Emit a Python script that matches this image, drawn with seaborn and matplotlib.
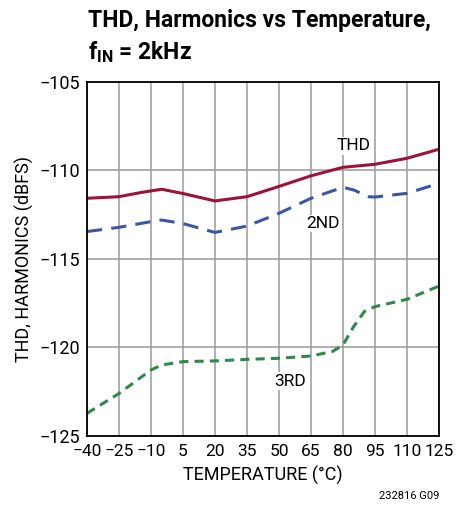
import matplotlib.pyplot as plt
import numpy as np
import pandas as pd
import seaborn as sb

# readings (temperature in degC, level in dBFS)
thd_temp = [-40, -25, -15, -5, 5, 20, 35, 50, 65, 75, 80, 95, 110, 125]
thd_val = [-111.57, -111.48, -111.25, -111.06, -111.3, -111.72, -111.48, -110.9, -110.3, -109.98, -109.82, -109.65, -109.31, -108.8]

nd2_temp = [-40, -25, -10, -5, 5, 20, 35, 50, 65, 80, 85, 92, 95, 110, 125]
nd2_val = [-113.45, -113.21, -112.89, -112.8, -113.0, -113.5, -113.14, -112.42, -111.57, -110.95, -111.1, -111.48, -111.5, -111.29, -110.73]

rd3_temp = [-40, -25, -10, -5, 5, 20, 35, 50, 65, 75, 80, 85, 90, 95, 110, 125]
rd3_val = [-123.72, -122.6, -121.27, -120.99, -120.8, -120.76, -120.67, -120.61, -120.48, -120.23, -119.86, -118.82, -117.97, -117.69, -117.28, -116.53]

x_ticks = [-40, -25, -10, 5, 20, 35, 50, 65, 80, 95, 110, 125]
y_ticks = [-125, -120, -115, -110, -105]

sb.set_style("white")
plt.rcParams["font.family"] = ["Roboto", "DejaVu Sans"]
plt.rcParams["text.color"] = "black"
plt.rcParams["axes.labelcolor"] = "black"
plt.rcParams["xtick.color"] = "black"
plt.rcParams["ytick.color"] = "black"
plt.rcParams["mathtext.fontset"] = "custom"
plt.rcParams["mathtext.bf"] = "Roboto:bold"
plt.rcParams["mathtext.rm"] = "Roboto"

fig = plt.figure(figsize=(4.72, 5.17), dpi=100)
ax = fig.add_axes([0.1843, 0.1567, 0.7457, 0.6847])

sb.lineplot(x=thd_temp, y=thd_val, ax=ax, color="#9E1239", linewidth=2.2)
sb.lineplot(x=nd2_temp, y=nd2_val, ax=ax, color="#3D55A6", linewidth=2.2).lines[-1].set_dashes([5, 3])
sb.lineplot(x=rd3_temp, y=rd3_val, ax=ax, color="#2F8A4A", linewidth=2.2).lines[-1].set_dashes([3, 2])

ax.set_xlim(-40, 125)
ax.set_ylim(-125, -105)
ax.set_xticks(x_ticks)
ax.set_yticks(y_ticks)
ax.set_xticklabels([str(t).replace("-", "\u2212") for t in x_ticks])
ax.set_yticklabels([str(t).replace("-", "\u2212") for t in y_ticks])
ax.tick_params(axis="x", labelsize=12.5, length=0, pad=6)
ax.tick_params(axis="y", labelsize=13, length=0, pad=5)
ax.grid(True, color="#9a9a9a", linewidth=1.1)
ax.set_axisbelow(True)
for s in ax.spines.values():
    s.set_color("black")
    s.set_linewidth(1.3)

ax.set_xlabel("TEMPERATURE (°C)", fontsize=13, labelpad=5)
ax.set_ylabel("THD, HARMONICS (dBFS)", fontsize=13, labelpad=4)

box = dict(facecolor="white", edgecolor="none", pad=1)
ax.text(85, -108.6, "THD", fontsize=12.5, ha="center", va="center", bbox=box)
ax.text(70.5, -113.0, "2ND", fontsize=12.5, ha="center", va="center", bbox=box)
ax.text(55, -121.9, "3RD", fontsize=12.5, ha="center", va="center", bbox=box)

fig.text(0.186, 0.96, "THD, Harmonics vs Temperature,", fontsize=16.5, fontweight="bold",
         ha="left", va="center")
fig.text(0.186, 0.9, r"f$_{\mathbf{IN}}$ = 2kHz", fontsize=16.5, fontweight="bold",
         ha="left", va="center")
fig.text(0.93, 0.04, "232816 G09", fontsize=8, ha="right", va="center")

fig.savefig("out.png", dpi=100)
